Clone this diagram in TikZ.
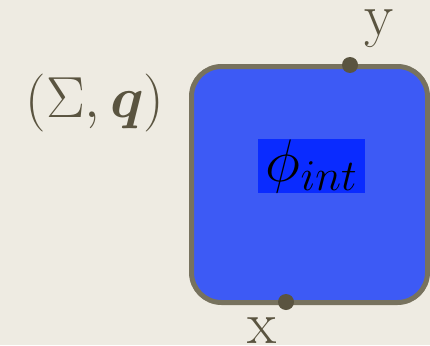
\RequirePackage{fix-cm}
\documentclass[tikz,border=0pt]{standalone}
\usepackage{amsmath}
\usepackage{bm}
\usepackage{xcolor}
\usetikzlibrary{positioning}
\DeclareMathSizes{60}{60}{44}{36}
\definecolor{paper}{HTML}{EEEBE2}
\definecolor{rim}{HTML}{77725E}
\definecolor{ink}{HTML}{5A5440}
\definecolor{fieldblue}{HTML}{3D5AF5}
\definecolor{tagblue}{HTML}{0A2BFF}
\tikzset{
    region/.style={draw=rim, line width=5pt, fill=fieldblue, rounded corners=30pt,
        minimum width=236pt, minimum height=236pt, inner sep=0pt},
    port/.style={circle, fill=ink, minimum size=16pt, inner sep=0pt},
    port label/.style={text=ink, font=\fontsize{60}{60}\selectfont, inner sep=0pt, anchor=base},
    field tag/.style={fill=tagblue, text=black, inner sep=0pt, minimum width=107pt, anchor=base}
}

\begin{document}
\begin{tikzpicture}[x=1pt, y=-1pt]
    % Hintergrund
    \fill[paper] (0,0) rectangle (430,345);
    \useasboundingbox (0,0) rectangle (430,345);

    % Gebiet
    \node[region] (box) at (309.5,184.5) {};
    \node[field tag] (phi) at (311.5,181) {\fontsize{60}{60}\selectfont$\phi_{int}$};

    % Randpunkte
    \node[port] (top) at (350,65) {};
    \node[port] (bottom) at (286,302) {};
    \node[port label] (ylab) at (379,35) {y};
    \node[port label] (xlab) at (262,343) {x};

    % Bezeichnung
    \node[text=ink, inner sep=0pt, anchor=base, font=\fontsize{58}{58}\selectfont] (sigma) at (95,117) {$(\Sigma, \bm{q})$};
\end{tikzpicture}
\end{document}
